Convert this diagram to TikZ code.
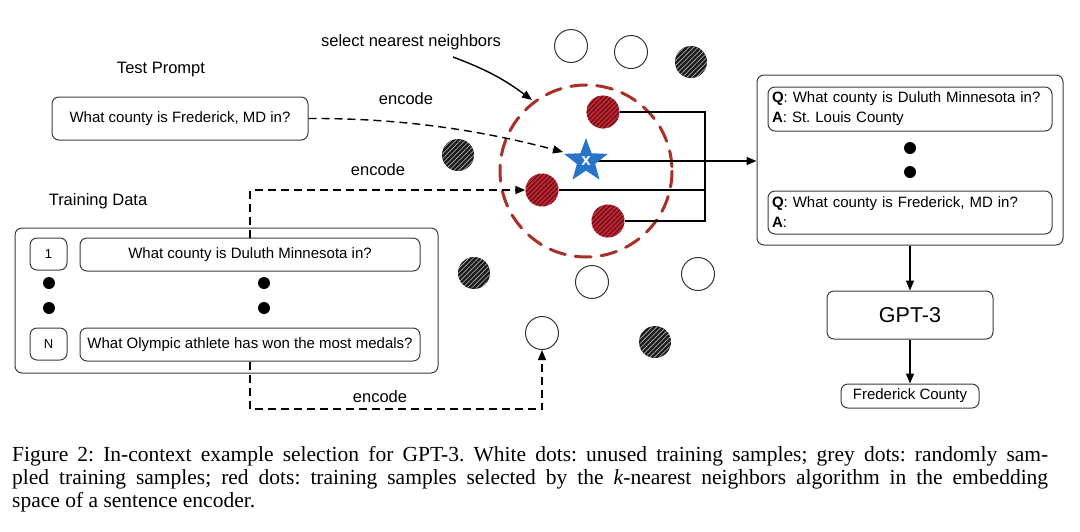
\documentclass[tikz,border=0pt]{standalone}
\usepackage{fontspec}
\setmainfont{Liberation Serif}
\setsansfont{Liberation Sans}
\usetikzlibrary{shapes.geometric,patterns.meta,arrows.meta}
\definecolor{reddot}{RGB}{200,30,45}
\definecolor{ringred}{RGB}{168,48,40}
\definecolor{starblue}{RGB}{40,116,200}
\definecolor{boxline}{RGB}{60,60,60}
\frenchspacing
\begin{document}
\begin{tikzpicture}[x=1pt,y=-1pt,
  txt/.style={font=\sffamily\fontsize{15}{18}\selectfont},
  lbl/.style={font=\sffamily\fontsize{16.5}{20}\selectfont, inner sep=0},
  rbox/.style={draw=boxline, rounded corners=7pt, line width=1pt, inner sep=0, txt},
  dotw/.style={circle, draw=black!80, line width=1pt, fill=white, minimum size=33pt, inner sep=0},
  dotg/.style={circle, fill=black!90, minimum size=32pt, inner sep=0,
     postaction={pattern={Lines[angle=45,distance=3.3pt,line width=0.8pt]}, pattern color=gray!70}},
  dotr/.style={circle, fill=reddot, minimum size=33pt, inner sep=0,
     postaction={pattern={Lines[angle=45,distance=3.3pt,line width=0.7pt]}, pattern color=black!90}},
  bul/.style={circle, fill=black, minimum width=12pt, minimum height=11pt, inner sep=0},
  conn/.style={line width=1.4pt},
  dconn/.style={line width=1.4pt, dash pattern=on 8pt off 5pt},
  arrowtip/.style={-{Triangle[length=10pt,width=8pt]}},
  captxt/.style={font=\fontsize{21.5}{23}\selectfont, inner sep=0, anchor=base west}
]
\useasboundingbox (0,0) rectangle (1080,531);

% ---- Test prompt
\node[lbl] (tplabel) at (161,70) {Test Prompt};
\node[rbox, minimum width=256pt, minimum height=43pt] (prompt) at (180,118.5) {What county is Frederick, MD in?};

% ---- Training data
\node[lbl] (tdlabel) at (98,201) {Training Data};
\node[rbox, minimum width=423pt, minimum height=145pt] (train) at (226.5,300.5) {};
\node[rbox, minimum width=37pt, minimum height=32pt, font=\sffamily\fontsize{13}{15}\selectfont] (one) at (48.5,254) {1};
\node[rbox, minimum width=340pt, minimum height=33pt] (q1) at (250,254.5) {What county is Duluth Minnesota in?};
\node[rbox, minimum width=37pt, minimum height=32pt, font=\sffamily\fontsize{13}{15}\selectfont] (nbox) at (48.5,344) {N};
\node[rbox, minimum width=340pt, minimum height=33pt] (qn) at (250,344.5) {What Olympic athlete has won the most medals?};
\node[bul] (b1) at (49,283) {};
\node[bul] (b2) at (49,308) {};
\node[bul] (b3) at (264,283) {};
\node[bul] (b4) at (264,308) {};

% ---- Right side
\node[rbox, minimum width=306pt, minimum height=170pt] (ctx) at (910,160) {};
\node[rbox, minimum width=284pt, minimum height=44pt, align=left, text width=276pt, font=\sffamily\fontsize{15}{20}\selectfont] (ex1) at (910,109)
  {\textbf{Q}: What county is Duluth Minnesota in?\\\textbf{A}: St. Louis County};
\node[rbox, minimum width=284pt, minimum height=43pt, align=left, text width=276pt, font=\sffamily\fontsize{15}{20}\selectfont] (ex2) at (910,212.5)
  {\textbf{Q}: What county is Frederick, MD in?\\\textbf{A}:};
\node[bul] (b5) at (910,148) {};
\node[bul] (b6) at (910,172) {};
\node[rbox, minimum width=166pt, minimum height=48pt, font=\sffamily\fontsize{21.5}{24}\selectfont] (gpt) at (910,315) {GPT-3};
\node[rbox, minimum width=138pt, minimum height=24pt] (ans) at (910,396) {Frederick County};
\draw[conn,arrowtip] (ctx.south) -- (gpt.north);
\draw[conn,arrowtip] (gpt.south) -- (ans.north);

% ---- Embedding space
\draw[ringred, line width=3pt, dash pattern=on 16pt off 10pt, line cap=round] (586,171) circle[radius=86];

\node[dotw] (w1) at (571,46) {};
\node[dotw] (w2) at (631,52) {};
\node[dotw] (w3) at (592,282) {};
\node[dotw] (w4) at (698,274) {};
\node[dotw] (w5) at (542,333) {};
\node[dotg] (g1) at (458,155) {};
\node[dotg] (g2) at (691,62) {};
\node[dotg] (g3) at (474,273) {};
\node[dotg] (g4) at (655,342) {};
\node[dotr] (r1) at (603,112) {};
\node[dotr] (r2) at (542,190) {};
\node[dotr] (r3) at (608,221) {};

\coordinate (jx) at (705,0);
\coordinate (sc) at (586,161);
\draw[conn] (r1.east) -- (r1.east -| jx) -- (r3.east -| jx) -- (r3.east);
\draw[conn] (r2.east) -- (r2.east -| jx);
\draw[conn,arrowtip] (sc) -- (sc -| ctx.west);
\node[star, star points=5, star point ratio=2.4, minimum size=46pt, inner sep=0, fill=starblue,
      font=\sffamily\bfseries\fontsize{17}{18}\selectfont, text=white] (star) at (sc) {x};

% ---- Encode arrows
\node[lbl] (enc1) at (406,99) {encode};
\node[lbl] (enc2) at (378,170) {encode};
\node[lbl] (enc3) at (380,397) {encode};
\coordinate (starin) at (563,152);
\draw[dconn,arrowtip] (prompt.east) .. controls (400,118) and (480,130) .. (starin);
\draw[dconn,arrowtip] (q1.north) |- (r2.west);
\coordinate (bot) at (250,409);
\draw[dconn,arrowtip] (qn.south) -- (qn.south |- bot) -| (w5.south);

% ---- select nearest neighbors
\node[lbl] (sel) at (411,42) {select nearest neighbors};
\coordinate (selstart) at (453,57);
\coordinate (selend) at (532,100);
\draw[conn,arrowtip] (selstart) to[bend left=8] (selend);

% ---- Caption
\node[captxt] (cap1) at (12,461) {\makebox[1036pt][s]{Figure 2: In-context example selection for GPT-3. White dots: unused training samples; grey dots: randomly sam-}};
\node[captxt] (cap2) at (12,484) {\makebox[1036pt][s]{pled training samples; red dots: training samples selected by the \textit{k}-nearest neighbors algorithm in the embedding}};
\node[captxt] (cap3) at (12,507) {space of a sentence encoder.};
\end{tikzpicture}
\end{document}
